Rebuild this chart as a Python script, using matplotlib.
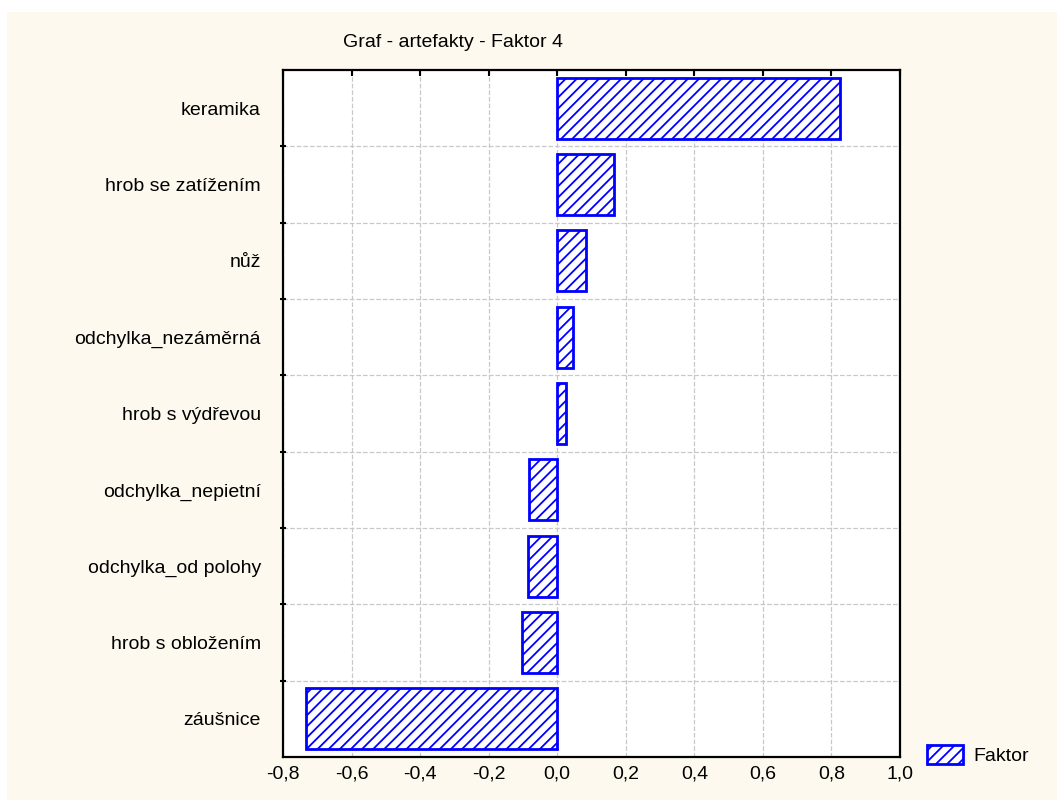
import matplotlib
matplotlib.use('Agg')
import matplotlib.pyplot as plt
from matplotlib.patches import Rectangle
import numpy as np

# factor loadings, top to bottom as in the chart
categories = ['keramika', 'hrob se zatížením', 'nůž', 'odchylka_nezáměrná',
              'hrob s výdřevou', 'odchylka_nepietní', 'odchylka_od polohy',
              'hrob s obložením', 'záušnice']
faktor = [0.825, 0.167, 0.085, 0.046, 0.027, -0.082, -0.085, -0.102, -0.733]

xticks = [-0.8, -0.6, -0.4, -0.2, 0.0, 0.2, 0.4, 0.6, 0.8, 1.0]
xtick_labels = ['-0,8', '-0,6', '-0,4', '-0,2', '0,0', '0,2', '0,4', '0,6', '0,8', '1,0']

plt.rcParams['font.family'] = ['Liberation Sans', 'DejaVu Sans']
plt.rcParams['hatch.linewidth'] = 1.3
plt.rcParams['hatch.color'] = '#0000ff'

fig = plt.figure(figsize=(10.57, 8), dpi=100, facecolor='white')
# cream panel behind everything
fig.patches.append(Rectangle((7 / 1057, 0), 1 - 7 / 1057, 1 - 12 / 800,
                             transform=fig.transFigure, facecolor='#fef9ee',
                             edgecolor='none', zorder=-10))

ax = fig.add_axes([283 / 1057, 43 / 800, 617 / 1057, 687 / 800])
ax.set_facecolor('white')

y = np.arange(len(categories))
ax.barh(y, faktor, height=0.8, color='white', edgecolor='#0000ff',
        linewidth=2, hatch='///', label='Faktor', zorder=3)

ax.set_xlim(-0.8, 1.0)
ax.set_ylim(len(categories) - 0.5, -0.5)

ax.set_xticks(xticks)
ax.set_xticklabels(xtick_labels, fontsize=14)
ax.set_yticks(y)
ax.set_yticklabels(categories, fontsize=14)
ax.set_yticks(np.arange(len(categories) - 1) + 0.5, minor=True)

ax.tick_params(axis='y', which='major', length=0, pad=16)
ax.tick_params(axis='y', which='minor', length=4, width=1.5, direction='inout')
ax.tick_params(axis='x', which='major', direction='in', top=True, bottom=False,
               length=4, width=1.5, pad=6)

ax.grid(axis='x', which='major', color='#c8c8c8', linestyle='--', linewidth=0.9, zorder=0)
ax.grid(axis='y', which='minor', color='#c8c8c8', linestyle='--', linewidth=0.9, zorder=0)

for s in ax.spines.values():
    s.set_linewidth(1.6)
    s.set_color('black')

fig.text(343 / 1057, 1 - 47 / 800, 'Graf - artefakty - Faktor 4', fontsize=14,
         ha='left', va='baseline')

fig.legend(loc='center left', bbox_to_anchor=(909 / 1057, 1 - 755 / 800),
           frameon=False, fontsize=14, handlelength=1.9, handleheight=1.1,
           handletextpad=0.5)

fig.savefig('out.png', dpi=100, facecolor=fig.get_facecolor())
